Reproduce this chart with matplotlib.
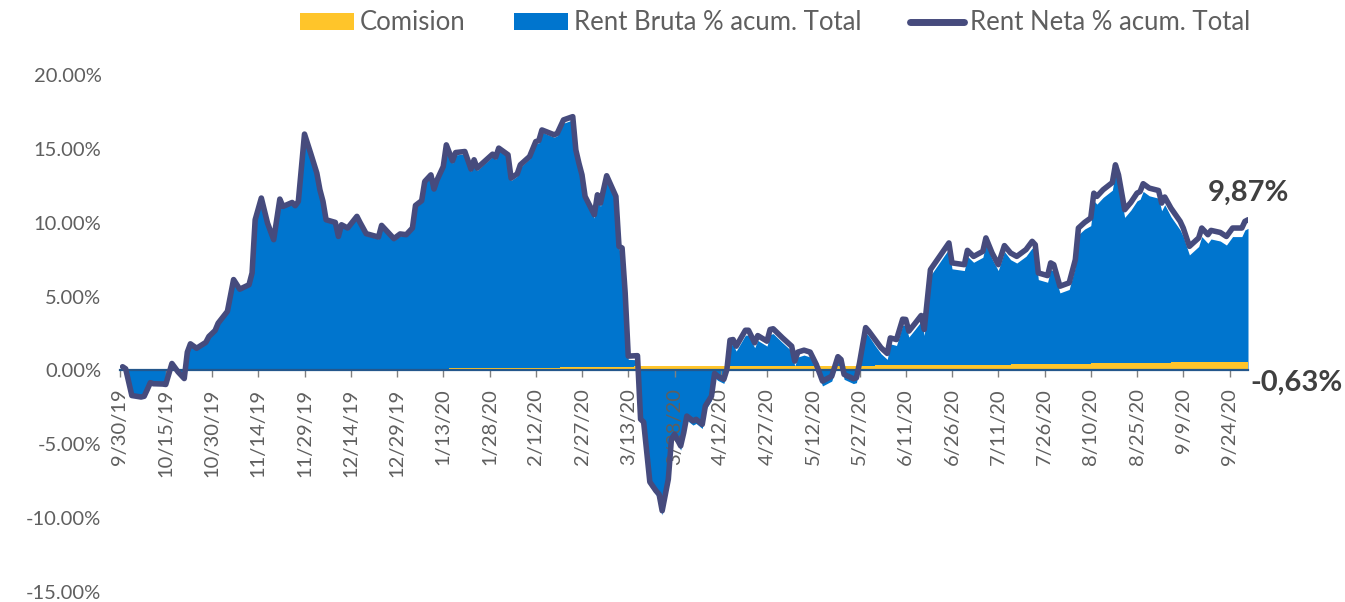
import matplotlib
matplotlib.use("Agg")
import matplotlib.pyplot as plt
from matplotlib.patches import Patch
from matplotlib.lines import Line2D
from matplotlib.ticker import FuncFormatter
import numpy as np
import pandas as pd

dates = [
    "2019-10-01", "2019-10-02", "2019-10-04", "2019-10-07", "2019-10-08", "2019-10-09", "2019-10-10",
    "2019-10-11", "2019-10-14", "2019-10-15", "2019-10-17", "2019-10-19", "2019-10-21", "2019-10-22",
    "2019-10-23", "2019-10-25", "2019-10-28", "2019-10-29", "2019-10-31", "2019-11-01", "2019-11-04",
    "2019-11-06", "2019-11-08", "2019-11-11", "2019-11-12", "2019-11-13", "2019-11-15", "2019-11-17",
    "2019-11-19", "2019-11-21", "2019-11-22", "2019-11-25", "2019-11-26", "2019-11-27", "2019-11-29",
    "2019-12-01", "2019-12-03", "2019-12-04", "2019-12-05", "2019-12-06", "2019-12-09", "2019-12-10",
    "2019-12-11", "2019-12-13", "2019-12-16", "2019-12-17", "2019-12-19", "2019-12-23", "2019-12-24",
    "2019-12-28", "2019-12-30", "2020-01-01", "2020-01-03", "2020-01-04", "2020-01-06", "2020-01-07",
    "2020-01-09", "2020-01-10", "2020-01-11", "2020-01-13", "2020-01-14", "2020-01-16", "2020-01-17",
    "2020-01-20", "2020-01-22", "2020-01-23", "2020-01-24", "2020-01-29", "2020-01-30", "2020-01-31",
    "2020-02-03", "2020-02-04", "2020-02-06", "2020-02-07", "2020-02-10", "2020-02-12", "2020-02-13",
    "2020-02-14", "2020-02-18", "2020-02-19", "2020-02-21", "2020-02-24", "2020-02-25", "2020-02-26",
    "2020-02-27", "2020-02-28", "2020-03-02", "2020-03-03", "2020-03-04", "2020-03-06", "2020-03-09",
    "2020-03-10", "2020-03-11", "2020-03-12", "2020-03-13", "2020-03-16", "2020-03-17", "2020-03-18",
    "2020-03-20", "2020-03-22", "2020-03-23", "2020-03-24", "2020-03-26", "2020-03-27", "2020-03-28",
    "2020-03-30", "2020-03-31", "2020-04-01", "2020-04-03", "2020-04-04", "2020-04-06", "2020-04-07",
    "2020-04-09", "2020-04-10", "2020-04-11", "2020-04-13", "2020-04-14", "2020-04-15", "2020-04-16",
    "2020-04-17", "2020-04-20", "2020-04-21", "2020-04-23", "2020-04-24", "2020-04-27", "2020-04-28",
    "2020-04-29", "2020-05-02", "2020-05-05", "2020-05-06", "2020-05-07", "2020-05-09", "2020-05-11",
    "2020-05-13", "2020-05-15", "2020-05-18", "2020-05-20", "2020-05-21", "2020-05-22", "2020-05-25",
    "2020-05-26", "2020-05-27", "2020-05-29", "2020-05-30", "2020-06-01", "2020-06-03", "2020-06-05",
    "2020-06-06", "2020-06-08", "2020-06-10", "2020-06-11", "2020-06-12", "2020-06-14", "2020-06-16",
    "2020-06-17", "2020-06-19", "2020-06-22", "2020-06-25", "2020-06-26", "2020-06-30", "2020-07-01",
    "2020-07-03", "2020-07-06", "2020-07-07", "2020-07-09", "2020-07-11", "2020-07-13", "2020-07-15",
    "2020-07-17", "2020-07-20", "2020-07-22", "2020-07-23", "2020-07-24", "2020-07-27", "2020-07-28",
    "2020-07-29", "2020-07-31", "2020-08-03", "2020-08-05", "2020-08-06", "2020-08-08", "2020-08-10",
    "2020-08-11", "2020-08-12", "2020-08-14", "2020-08-17", "2020-08-18", "2020-08-19", "2020-08-21",
    "2020-08-23", "2020-08-25", "2020-08-26", "2020-08-27", "2020-08-29", "2020-09-01", "2020-09-02",
    "2020-09-03", "2020-09-05", "2020-09-08", "2020-09-09", "2020-09-11", "2020-09-14", "2020-09-15",
    "2020-09-17", "2020-09-18", "2020-09-21", "2020-09-23", "2020-09-25", "2020-09-28", "2020-09-29",
    "2020-09-30",
]

rent_neta = [
    0.25, 0.11, -1.7, -1.8, -1.75, -1.3, -0.83,
    -0.9, -0.92, -0.95, 0.47, -0.1, -0.55, 1.24,
    1.8, 1.5, 1.9, 2.3, 2.7, 3.2, 4.0,
    6.15, 5.5, 5.8, 6.6, 10.2, 11.67, 9.98,
    8.85, 11.6, 11.1, 11.37, 11.15, 11.44, 16.0,
    14.7, 13.36, 12.23, 11.44, 10.2, 10.02, 9.07,
    9.86, 9.64, 10.43, 10.02, 9.26, 9.03, 9.82,
    8.92, 9.24, 9.19, 9.64, 11.17, 11.49, 12.79,
    13.24, 12.28, 12.9, 13.8, 15.27, 14.19, 14.75,
    14.82, 13.63, 14.26, 13.7, 14.64, 14.44, 15.05,
    14.6, 13.02, 13.31, 13.92, 14.48, 15.49, 15.56,
    16.28, 15.95, 16.06, 16.96, 17.18, 14.93, 14.03,
    13.24, 11.78, 10.54, 11.89, 11.33, 13.18, 11.78,
    8.4, 8.29, 5.25, 0.97, 1.0, -3.3, -3.5,
    -7.55, -8.15, -8.38, -9.5, -7.36, -4.66, -4.32,
    -5.11, -4.21, -3.09, -3.42, -3.31, -3.65, -2.41,
    -1.74, -0.2, -0.39, -0.6, 0.07, 2.05, 2.09,
    1.64, 2.72, 2.72, 1.87, 2.36, 1.98, 2.77,
    2.82, 2.21, 1.64, 0.63, 1.24, 1.37, 1.24,
    0.4, -0.72, -0.39, 0.93, 0.74, -0.27, -0.56,
    -0.5, 0.5, 2.9, 2.66, 2.1, 1.53, 1.15,
    2.2, 2.09, 3.47, 3.45, 2.66, 3.18, 3.72,
    2.77, 6.82, 7.72, 8.63, 7.28, 7.16, 8.13,
    7.72, 8.06, 8.97, 7.95, 7.16, 8.45, 7.95,
    7.72, 8.18, 8.74, 8.51, 6.6, 6.42, 7.28,
    7.16, 5.7, 5.93, 7.5, 9.64, 10.02, 10.32,
    12.0, 11.78, 12.23, 12.72, 13.92, 13.24, 10.88,
    11.37, 12.0, 12.11, 12.64, 12.34, 12.18, 11.33,
    11.74, 10.99, 10.09, 9.64, 8.4, 8.97, 9.64,
    9.19, 9.48, 9.34, 9.07, 9.64, 9.64, 10.09,
    10.2,
]

comision_dates = ["2019-09-30", "2019-11-25", "2020-01-15", "2020-02-20", "2020-03-15",
                  "2020-04-15", "2020-06-01", "2020-07-15", "2020-08-10", "2020-09-05", "2020-09-30"]
comision = [0.05, 0.12, 0.16, 0.22, 0.28, 0.33, 0.4, 0.45, 0.52, 0.58, 0.58]

tick_labels = ["9/30/19", "10/15/19", "10/30/19", "11/14/19", "11/29/19", "12/14/19", "12/29/19",
               "1/13/20", "1/28/20", "2/12/20", "2/27/20", "3/13/20", "3/28/20", "4/12/20",
               "4/27/20", "5/12/20", "5/27/20", "6/11/20", "6/26/20", "7/11/20", "7/26/20",
               "8/10/20", "8/25/20", "9/9/20", "9/24/20"]

y_ticks = [-15, -10, -5, 0, 5, 10, 15, 20]
label_neta = "9,87%"
label_comision = "-0,63%"

# colours
C_BLUE = "#0075CE"
C_LINE = "#464B7D"
C_YELLOW = "#FFC52A"
C_AXIS = "#24578C"
C_TEXT = "#5F5F5F"
C_LABEL = "#404040"

plt.rcParams["font.family"] = ["Lato", "DejaVu Sans"]
plt.rcParams["axes.unicode_minus"] = False

d = pd.to_datetime(dates)
cd = pd.to_datetime(comision_dates)
net = np.array(rent_neta)
com = np.array(comision)
idx = np.searchsorted(cd.values, d.values, side="right") - 1
bruta = net - com[idx]

fig = plt.figure(figsize=(13.45, 6.02), dpi=100)
ax = fig.add_axes([119.5 / 1345, 1 - 592 / 602, (1248 - 119.5) / 1345, (592 - 75) / 602])

ax.fill_between(d, 0, bruta, color=C_BLUE, lw=0, zorder=1)
ax.fill_between(cd, 0, com, step="post", color=C_YELLOW, lw=0, zorder=2)
ax.plot(d, net, color=C_LINE, lw=4, solid_joinstyle="round", solid_capstyle="round", zorder=4)

ax.set_ylim(-15, 20)
ax.set_xlim(pd.Timestamp("2019-09-30"), pd.Timestamp("2020-09-30"))
ax.set_yticks(y_ticks)
ax.yaxis.set_major_formatter(FuncFormatter(lambda v, p: f"{v:.2f}%"))

tick_pos = pd.to_datetime(tick_labels, format="%m/%d/%y")
ax.set_xticks(tick_pos, labels=tick_labels)

for s in ["top", "right", "left"]:
    ax.spines[s].set_visible(False)
ax.spines["bottom"].set_position(("data", 0))
ax.spines["bottom"].set_color(C_AXIS)
ax.spines["bottom"].set_linewidth(1.6)
ax.spines["bottom"].set_zorder(3)

ax.tick_params(axis="y", length=0, pad=13, labelsize=14.5, labelcolor=C_TEXT)
ax.tick_params(axis="x", length=5, width=1, color="#808080", pad=8, labelsize=14.5,
               labelcolor=C_TEXT, labelrotation=90)

ax.annotate(label_neta, xy=(d[-1], net[-1]), xytext=(0, 27), textcoords="offset pixels",
            ha="center", va="center", fontsize=21, fontweight="bold", color=C_LABEL)
ax.annotate(label_comision, xy=(d[-1], 0), xytext=(2, -12), textcoords="offset pixels",
            ha="left", va="center", fontsize=21, fontweight="bold", color=C_LABEL)

handles = [Patch(facecolor=C_YELLOW, edgecolor="none"),
           Patch(facecolor=C_BLUE, edgecolor="none"),
           Line2D([0], [0], color=C_LINE, lw=5, solid_capstyle="round")]
labels = ["Comision", "Rent Bruta % acum. Total", "Rent Neta % acum. Total"]
leg = fig.legend(handles, labels, loc="center", bbox_to_anchor=(775 / 1345, 1 - 23 / 602), ncol=3,
                 frameon=False, handlelength=2.1, handleheight=0.6, handletextpad=0.23,
                 columnspacing=1.9, prop={"size": 18.5})
for t in leg.get_texts():
    t.set_color(C_TEXT)

fig.savefig("out.png", dpi=100)
